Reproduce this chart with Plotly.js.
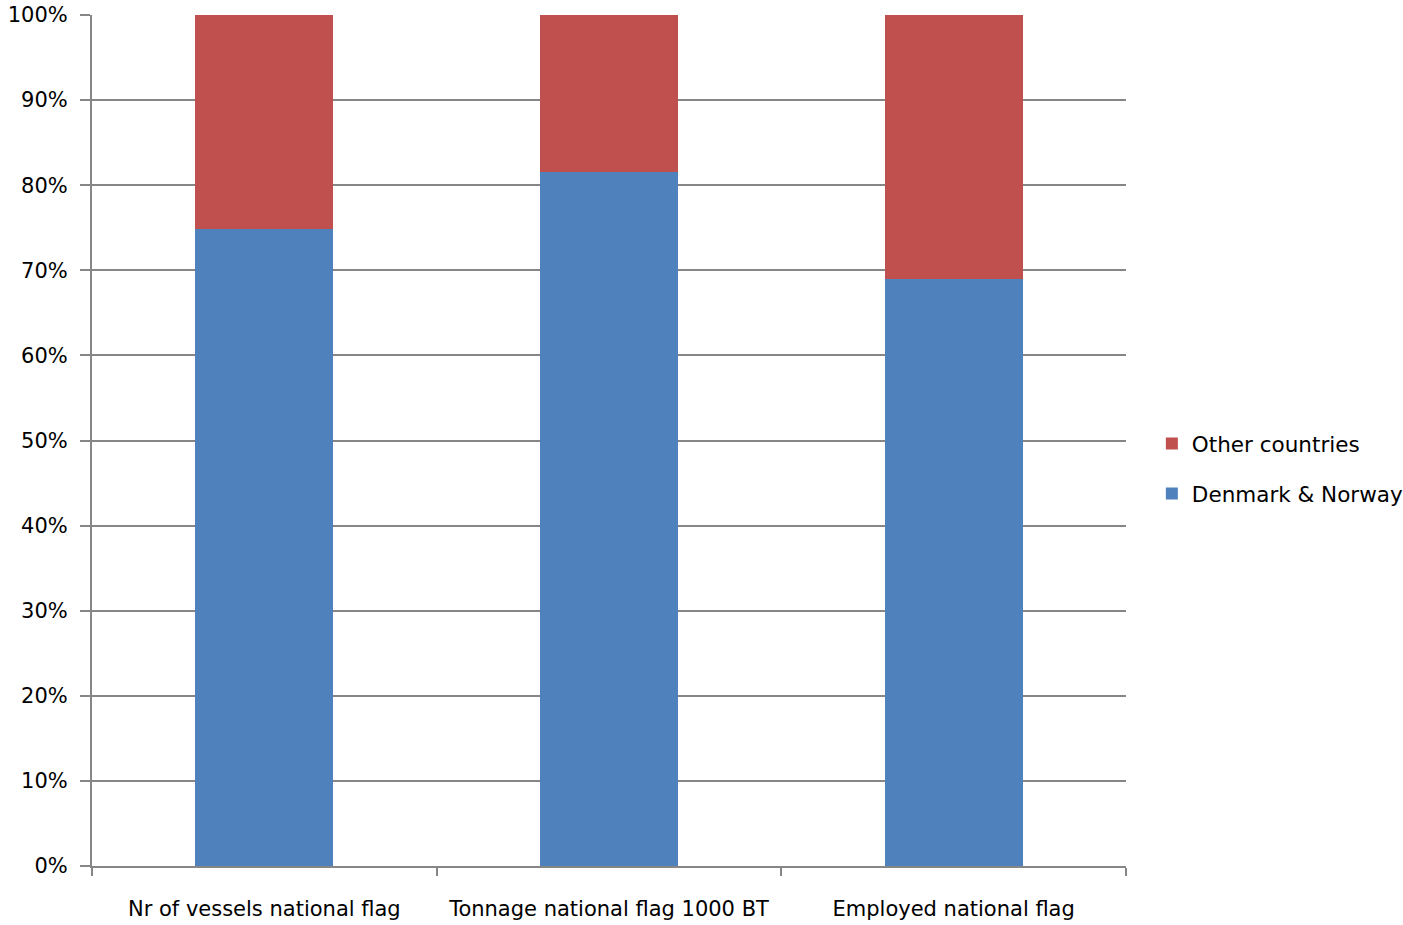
<!DOCTYPE html>
<html>
<head>
<meta charset="utf-8">
<script src="https://cdn.plot.ly/plotly-3.0.1.min.js"></script>
<style>html,body{margin:0;padding:0;background:#fff;}#chart{width:1403px;height:925px;}</style>
</head>
<body>
<div id="chart"></div>
<script>
const categories = ["Nr of vessels national flag", "Tonnage national flag 1000 BT", "Employed national flag"];
const denmarkNorway = [74.8, 81.6, 69.0];
const otherCountries = [25.2, 18.4, 31.0];
const yTicks = [0,10,20,30,40,50,60,70,80,90,100];

const font = {family: "'DejaVu Sans', sans-serif", size: 21, color: "#000"};
const grey = "#868686";

const traces = [
  {type: "bar", name: "Denmark & Norway", x: categories, y: denmarkNorway,
   marker: {color: "#4F81BD"}, legendgroup: "a", legendrank: 2, hoverinfo: "skip"},
  {type: "bar", name: "Other countries", x: categories, y: otherCountries,
   marker: {color: "#C0504D"}, legendgroup: "b", legendrank: 1, hoverinfo: "skip"}
];

const layout = {
  width: 1403, height: 925,
  margin: {l: 92, r: 277, t: 15, b: 59, autoexpand: false},
  paper_bgcolor: "#fff", plot_bgcolor: "#fff",
  barmode: "stack", bargap: 0.6,
  font: font,
  showlegend: true,
  legend: {x: 1.025, y: 0.467, xanchor: "left", yanchor: "middle",
           traceorder: "grouped", tracegroupgap: 19,
           font: {family: font.family, size: 21.5, color: "#000"}, itemwidth: 30},
  xaxis: {type: "category", showline: true, linecolor: grey, linewidth: 2,
          ticks: "outside", tickson: "boundaries", ticklen: 8, tickcolor: grey, tickwidth: 2,
          showgrid: false, zeroline: false, ticklabelstandoff: 23, tickfont: font},
  yaxis: {range: [0, 100], tickvals: yTicks, ticktext: yTicks.map(v => v + "%"),
          showgrid: true, gridcolor: grey, gridwidth: 2,
          showline: true, linecolor: grey, linewidth: 2,
          ticks: "outside", ticklen: 10, tickcolor: grey, tickwidth: 2,
          zeroline: false, tickfont: font, ticklabelstandoff: 8, fixedrange: true}
};

Plotly.newPlot("chart", traces, layout, {displayModeBar: false, staticPlot: true});
</script>
</body>
</html>
